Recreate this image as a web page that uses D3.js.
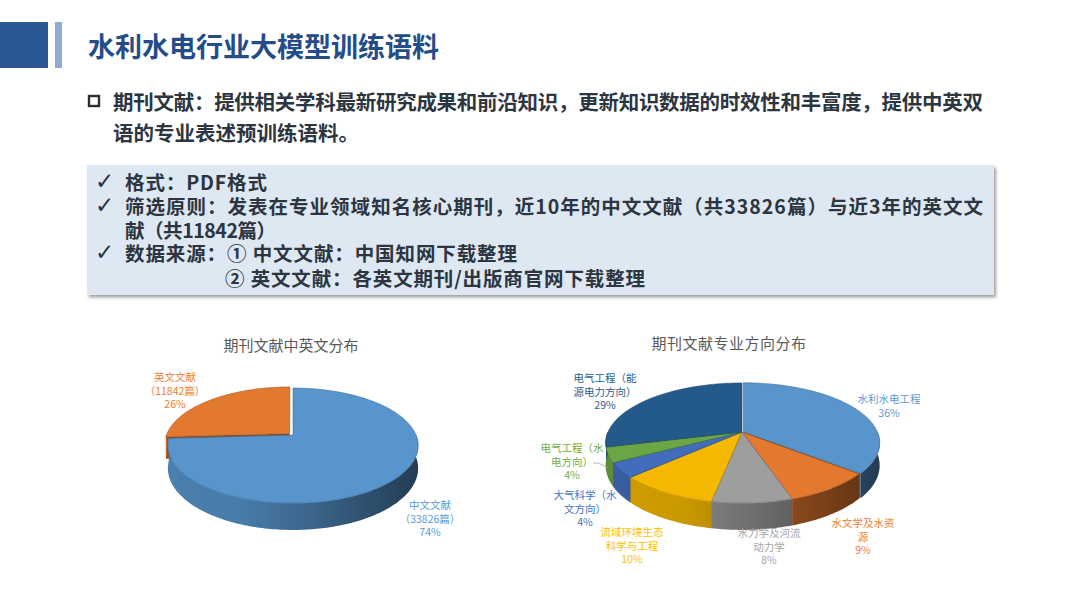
<!DOCTYPE html>
<html>
<head>
<meta charset="utf-8">
<script src="https://cdn.jsdelivr.net/npm/d3@7"></script>
<style>
  body { margin: 0; background: #fff; }
  svg { display: block; font-family: "Noto Sans CJK SC", "Noto Sans", sans-serif; }
</style>
</head>
<body>
<svg id="chart" width="1080" height="608"></svg>
<script>
// ---- data ----
const pageTitle = "水利水电行业大模型训练语料";
const bulletLines = [
  "期刊文献：提供相关学科最新研究成果和前沿知识，更新知识数据的时效性和丰富度，提供中英双",
  "语的专业表述预训练语料。"
];
const checkLines = [
  "格式：PDF格式",
  "筛选原则：发表在专业领域知名核心期刊，近10年的中文文献（共33826篇）与近3年的英文文",
  "献（共11842篇）",
  "数据来源：① 中文文献：中国知网下载整理",
  "② 英文文献：各英文期刊/出版商官网下载整理"
];
const checkMarked = [true, true, false, true, false];

const langTitle = "期刊文献中英文分布";
const langNames = ["中文文献", "英文文献"];
const langCounts = [33826, 11842];
const langColors = ["#5B9BD5", "#ED7D31"];

const fieldTitle = "期刊文献专业方向分布";
const fieldNames = ["水利水电工程", "水文学及水资源", "水力学及河流动力学", "流域环境生态科学与工程",
                    "大气科学（水文方向）", "电气工程（水电方向）", "电气工程（能源电力方向）"];
const fieldShares = [36, 9, 8, 10, 4, 4, 29];
const fieldColors = ["#5B9BD5", "#ED7D31", "#A5A5A5", "#FFC000", "#4472C4", "#70AD47", "#255E91"];

// ---- layout ----
const svg = d3.select("#chart");
const defs = svg.append("defs");
const textColor = "#2d3540";

// header
svg.append("rect").attr("x", 0).attr("y", 22).attr("width", 48).attr("height", 46).attr("fill", "#2b5694");
svg.append("rect").attr("x", 55).attr("y", 22).attr("width", 7).attr("height", 46).attr("fill", "#8eaad6");
svg.append("text").attr("x", 88).attr("y", 57).text(pageTitle)
  .attr("font-size", 27).attr("font-weight", 700).attr("fill", "#244c89");

// intro bullet
svg.append("rect").attr("x", 89).attr("y", 96).attr("width", 10).attr("height", 10)
  .attr("fill", "none").attr("stroke", "#2a2f36").attr("stroke-width", 2.4);
bulletLines.forEach((t, i) => {
  const el = svg.append("text").attr("x", 113).attr("y", 110 + i * 31).text(t)
    .attr("font-size", 20.5).attr("font-weight", 700).attr("fill", textColor);
  if (i === 0) el.attr("textLength", 870).attr("lengthAdjust", "spacing");
});

// info box
defs.append("filter").attr("id", "boxShadow").attr("x", "-5%").attr("y", "-10%").attr("width", "110%").attr("height", "125%")
  .append("feDropShadow").attr("dx", 2).attr("dy", 2.5).attr("stdDeviation", 1.4)
  .attr("flood-color", "#555").attr("flood-opacity", 0.55);
svg.append("rect").attr("x", 87).attr("y", 165).attr("width", 907).attr("height", 130)
  .attr("fill", "#dde8f3").attr("filter", "url(#boxShadow)");

const lineY = [189.5, 214, 237.5, 261, 285.5];
const lineX = [125, 125, 125, 125, 225];
const lineW = [142, 858, 151, 392, 420];
checkLines.forEach((t, i) => {
  if (checkMarked[i]) {
    svg.append("text").attr("x", 95).attr("y", lineY[i] - 1).text("✓")
      .attr("font-family", "DejaVu Sans").attr("font-weight", 700)
      .attr("font-size", 23).attr("fill", textColor);
  }
  svg.append("text").attr("x", lineX[i]).attr("y", lineY[i]).text(t)
    .attr("font-size", 19.5).attr("font-weight", 700).attr("fill", textColor)
    .attr("textLength", lineW[i]).attr("lengthAdjust", "spacing");
});

// ---- 3D pie helpers ----
function projector(g) {
  return (ux, uy, h) => {
    const k = 1 / (1 - g.p * uy);
    return [g.cx + g.r * ux * k, g.cy + (g.a * uy + g.depth * h) * k];
  };
}

function sideGradient(id, color, g) {
  const grad = defs.append("linearGradient").attr("id", id)
    .attr("gradientUnits", "userSpaceOnUse")
    .attr("x1", g.cx - g.r * 1.05).attr("x2", g.cx + g.r * 1.05).attr("y1", 0).attr("y2", 0);
  [[0, 0.55], [0.3, 0.65], [0.55, 1.15], [0.8, 1.9], [1, 2.7]].forEach(([o, k]) => {
    grad.append("stop").attr("offset", o).attr("stop-color", d3.color(color).darker(k));
  });
  return "url(#" + id + ")";
}

function draw3dPie(id, g, values, colors, explode) {
  const proj = projector(g);
  const line = d3.line();
  const arcs = d3.pie().sort(null).value(d => d)(values);
  const layer = svg.append("g").attr("id", id);

  const pts = (a0, a1, h, ox, oy) => {
    const n = Math.max(2, Math.ceil((a1 - a0) / (Math.PI / 180)));
    return d3.range(n + 1).map(j => {
      const a = a0 + (a1 - a0) * j / n;
      return proj(ox + Math.sin(a), oy - Math.cos(a), h);
    });
  };

  const slices = arcs.map((d, i) => {
    const mid = (d.startAngle + d.endAngle) / 2;
    const e = explode[i] || 0;
    return { d, i, mid, ox: e * Math.sin(mid), oy: -e * Math.cos(mid), color: colors[i] };
  });

  // radial walls
  slices.forEach(s => {
    [s.d.startAngle, s.d.endAngle].forEach(a => {
      const quad = [proj(s.ox, s.oy, 0), proj(s.ox + Math.sin(a), s.oy - Math.cos(a), 0),
                    proj(s.ox + Math.sin(a), s.oy - Math.cos(a), 1), proj(s.ox, s.oy, 1)];
      layer.append("path").attr("d", line(quad) + "Z")
        .attr("fill", d3.color(s.color).darker(1.4));
    });
  });

  // outer walls (front half)
  slices.forEach(s => {
    const lo = Math.max(s.d.startAngle, Math.PI / 2);
    const hi = Math.min(s.d.endAngle, Math.PI * 1.5);
    if (lo >= hi) return;
    const top = pts(lo, hi, 0, s.ox, s.oy);
    const bottom = pts(lo, hi, 1, s.ox, s.oy).reverse();
    layer.append("path").attr("d", line(top.concat(bottom)) + "Z")
      .attr("fill", sideGradient(id + "-side-" + s.i, s.color, g));
    // soft bevel highlight along the rim
    layer.append("path").attr("d", line(top))
      .attr("fill", "none").attr("stroke", d3.color(s.color).brighter(0.4))
      .attr("stroke-width", 1).attr("stroke-opacity", 0.6);
  });

  // top faces
  slices.forEach(s => {
    const poly = [proj(s.ox, s.oy, 0)].concat(pts(s.d.startAngle, s.d.endAngle, 0, s.ox, s.oy));
    layer.append("path").attr("d", line(poly) + "Z")
      .attr("fill", d3.color(s.color).darker(0.12))
      .attr("stroke", d3.color(s.color).darker(1.2)).attr("stroke-width", 0.5)
      .attr("stroke-linejoin", "round");
  });

  return { proj, slices };
}

function drawLabel(x, y, lines, color) {
  const t = svg.append("text").attr("text-anchor", "middle").attr("font-size", 10.5).attr("fill", color);
  lines.forEach((l, j) => t.append("tspan").attr("x", x).attr("y", y + 4 + j * 13.5).text(l));
}

const wrap = (s, n) => d3.range(0, s.length, n).map(j => s.slice(j, j + n));
const pctFmt = v => Math.round(v) + "%";

// ---- left pie ----
const leftGeom = { cx: 293, cy: 435, r: 123, a: 55.6, depth: 22, p: 0.183 };
draw3dPie("langPie", leftGeom, langCounts, langColors, [0, 0.04]);
svg.append("text").attr("x", 291).attr("y", 350.5).attr("text-anchor", "middle")
  .attr("font-size", 15).attr("fill", "#595959").text(langTitle);
const langTotal = d3.sum(langCounts);
const langLabelPos = [[430, 505], [175, 377]];
langNames.forEach((n, i) => {
  drawLabel(langLabelPos[i][0], langLabelPos[i][1],
    [n, "（" + langCounts[i] + "篇）", pctFmt(langCounts[i] / langTotal * 100)], langColors[i]);
});

// ---- right pie ----
const rightGeom = { cx: 742, cy: 432, r: 134, a: 58, depth: 22, p: 0.183 };
const fieldPie = draw3dPie("fieldPie", rightGeom, fieldShares, fieldColors, [0.012]);
svg.append("text").attr("x", 729).attr("y", 348.5).attr("text-anchor", "middle")
  .attr("font-size", 15).attr("fill", "#595959").attr("letter-spacing", 0.5).text(fieldTitle);

const fieldLabelPos = [[889, 399], [863, 523], [769, 533], [632, 532], [585, 495], [572, 448], [605, 378]];
const fieldTotal = d3.sum(fieldShares);

// leader line for the small green slice
const lead = fieldPie.slices[5];
const leadEnd = fieldPie.proj(Math.sin(lead.mid), -Math.cos(lead.mid), 0.55);
svg.append("polyline")
  .attr("points", [[593, 463], [598, 463], leadEnd].map(p => p.join(",")).join(" "))
  .attr("fill", "none").attr("stroke", "#a6a6a6").attr("stroke-width", 0.8);

fieldNames.forEach((n, i) => {
  drawLabel(fieldLabelPos[i][0], fieldLabelPos[i][1],
    wrap(n, 6).concat([pctFmt(fieldShares[i] / fieldTotal * 100)]), fieldColors[i]);
});
</script>
</body>
</html>
